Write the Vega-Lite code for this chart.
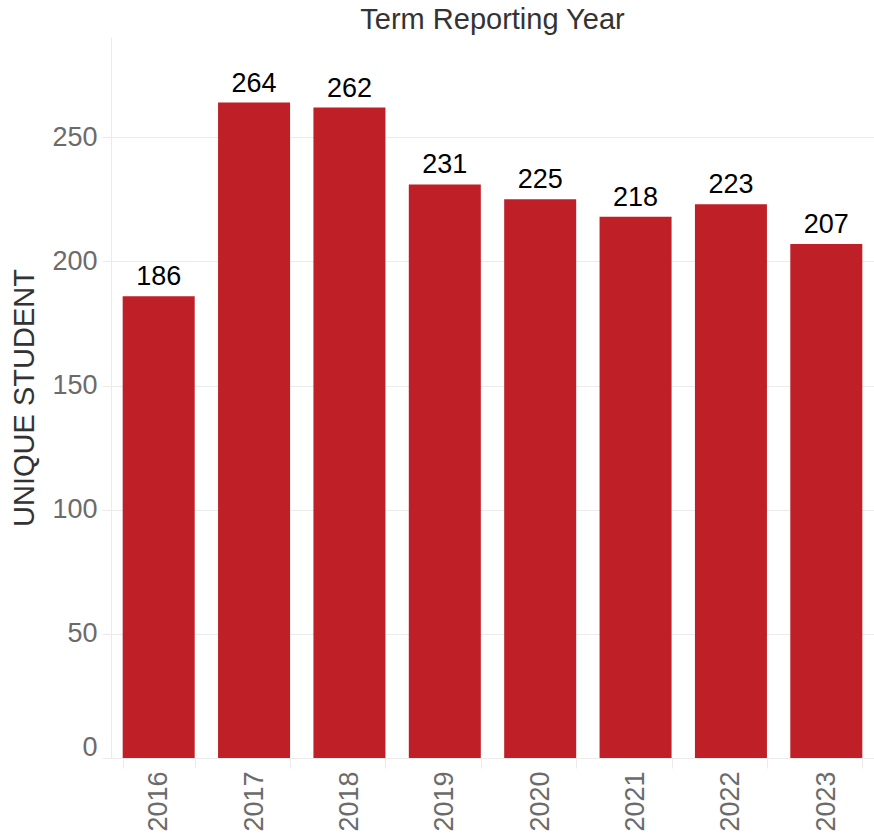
{
  "$schema": "https://vega.github.io/schema/vega-lite/v6.json",
  "autosize": {"type": "none"},
  "width": 763,
  "height": 721,
  "padding": {"left": 111, "top": 37, "right": 0, "bottom": 80},
  "background": "white",
  "config": {
    "font": "Liberation Sans",
    "view": {"stroke": null}
  },
  "title": {
    "text": "Term Reporting Year",
    "fontSize": 29,
    "fontWeight": "normal",
    "color": "#333333",
    "anchor": "middle",
    "offset": 2
  },
  "data": {
    "values": [
      {"year": "2016", "students": 186},
      {"year": "2017", "students": 264},
      {"year": "2018", "students": 262},
      {"year": "2019", "students": 231},
      {"year": "2020", "students": 225},
      {"year": "2021", "students": 218},
      {"year": "2022", "students": 223},
      {"year": "2023", "students": 207}
    ]
  },
  "encoding": {
    "x": {
      "field": "year",
      "type": "nominal",
      "sort": null,
      "scale": {"paddingInner": 0.245, "paddingOuter": 0.1225},
      "axis": {
        "title": null,
        "labelAngle": -90,
        "labelFontSize": 27,
        "labelColor": "#6b6b6b",
        "labelPadding": 3,
        "tickBand": "extent",
        "tickColor": "#ebebeb",
        "tickSize": 10,
        "domainColor": "#ebebeb",
        "grid": false
      }
    },
    "y": {
      "field": "students",
      "type": "quantitative",
      "scale": {"domain": [0, 290.4], "nice": false},
      "axis": {
        "title": "UNIQUE STUDENT",
        "titleFontSize": 29,
        "titleFontWeight": "normal",
        "titleColor": "#333333",
        "titlePadding": 12,
        "values": [0, 50, 100, 150, 200, 250],
        "labelFontSize": 27,
        "labelColor": "#6b6b6b",
        "labelPadding": 5,
        "labelFlush": true,
        "labelFlushOffset": 3,
        "tickColor": "#ebebeb",
        "tickSize": 9,
        "domainColor": "#ebebeb",
        "gridColor": "#ebebeb"
      }
    }
  },
  "layer": [
    {"mark": {"type": "bar", "color": "#BF1F27"}},
    {
      "mark": {"type": "text", "baseline": "bottom", "dy": -5, "fontSize": 27, "color": "#000000"},
      "encoding": {"text": {"field": "students", "type": "quantitative"}}
    }
  ]
}
